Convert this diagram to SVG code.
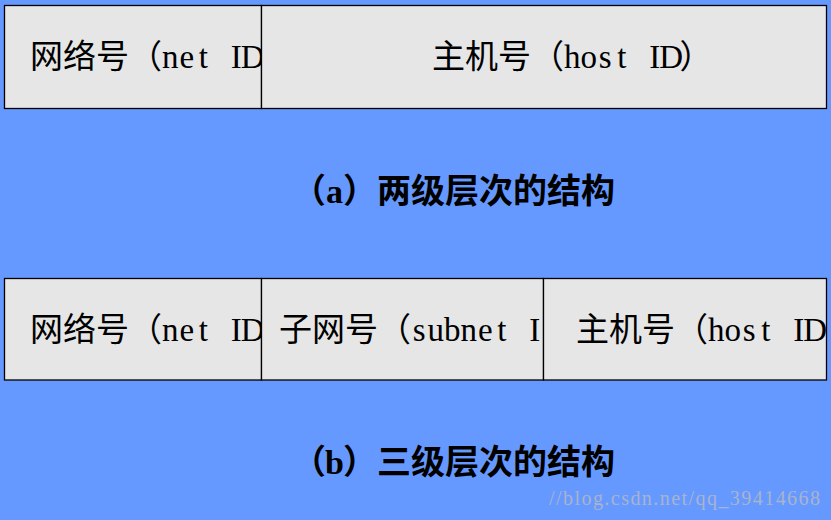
<svg xmlns="http://www.w3.org/2000/svg" width="831" height="520" viewBox="0 0 831 520">
  <style>
    .cell { fill: #E6E6E6; stroke: #000; stroke-width: 1.3; }
    .cjk { font-family: "Noto Sans CJK SC", sans-serif; font-size: 33px; fill: #000; }
    .lat { font-family: "Liberation Serif", serif; font-size: 33px; fill: #000; text-anchor: middle; }
    .capc { font-family: "Noto Sans CJK SC", sans-serif; font-size: 34px; font-weight: bold; fill: #000; }
    .capl { font-family: "Liberation Serif", serif; font-size: 34px; font-weight: bold; fill: #000; text-anchor: middle; }
    .wm { font-family: "Liberation Serif", serif; font-size: 20px; fill: #A9B3CC; }
  </style>
  <defs>
    <clipPath id="c1"><rect x="4" y="5" width="257" height="103"/></clipPath>
    <clipPath id="c2"><rect x="261" y="5" width="565" height="103"/></clipPath>
    <clipPath id="c3"><rect x="4" y="278" width="257" height="102"/></clipPath>
    <clipPath id="c4"><rect x="261" y="278" width="282" height="102"/></clipPath>
    <clipPath id="c5"><rect x="543" y="278" width="283" height="102"/></clipPath>
  </defs>
  <rect x="0" y="0" width="831" height="520" fill="#6699FF"/>

  <g id="connectors"></g>

  <g id="a-net">
    <rect class="cell" x="4.5" y="5.5" width="257" height="103"/>
    <g clip-path="url(#c1)">
      <text class="cjk" x="30" y="68">网络号（</text>
      <text class="lat" x="170.25 186.75 203.25 219.75 236.25 252.75" y="68">net ID</text>
    </g>
  </g>
  <g id="a-host">
    <rect class="cell" x="261.5" y="5.5" width="565" height="103"/>
    <g clip-path="url(#c2)">
      <text class="cjk" x="432" y="68">主机号（</text>
      <text class="lat" x="572.25 588.75 605.25 621.75 638.25 654.75 671.25" y="68">host ID</text>
      <text class="cjk" x="679.5" y="68">）</text>
    </g>
  </g>
  <g id="caption-a">
    <text class="capc" x="292" y="203">（</text>
    <text class="capl" x="334.5" y="203">a</text>
    <text class="capc" x="343" y="203">）两级层次的结构</text>
  </g>

  <g id="b-net">
    <rect class="cell" x="4.5" y="278.5" width="257" height="101.5"/>
    <g clip-path="url(#c3)">
      <text class="cjk" x="30" y="341">网络号（</text>
      <text class="lat" x="170.25 186.75 203.25 219.75 236.25 252.75" y="341">net ID</text>
    </g>
  </g>
  <g id="b-subnet">
    <rect class="cell" x="261.5" y="278.5" width="282" height="101.5"/>
    <g clip-path="url(#c4)">
      <text class="cjk" x="279" y="341">子网号（</text>
      <text class="lat" x="419.25 435.75 452.25 468.75 485.25 501.75 518.25 534.75" y="341">subnet I</text>
    </g>
  </g>
  <g id="b-host">
    <rect class="cell" x="543.5" y="278.5" width="283" height="101.5"/>
    <g clip-path="url(#c5)">
      <text class="cjk" x="576" y="341">主机号（</text>
      <text class="lat" x="716.25 732.75 749.25 765.75 782.25 798.75 815.25" y="341">host ID</text>
    </g>
  </g>
  <g id="caption-b">
    <text class="capc" x="292" y="474">（</text>
    <text class="capl" x="334.5" y="474">b</text>
    <text class="capc" x="343" y="474">）三级层次的结构</text>
  </g>

  <text class="wm" x="549" y="505" textLength="271" lengthAdjust="spacing">//blog.csdn.net/qq_39414668</text>
</svg>
